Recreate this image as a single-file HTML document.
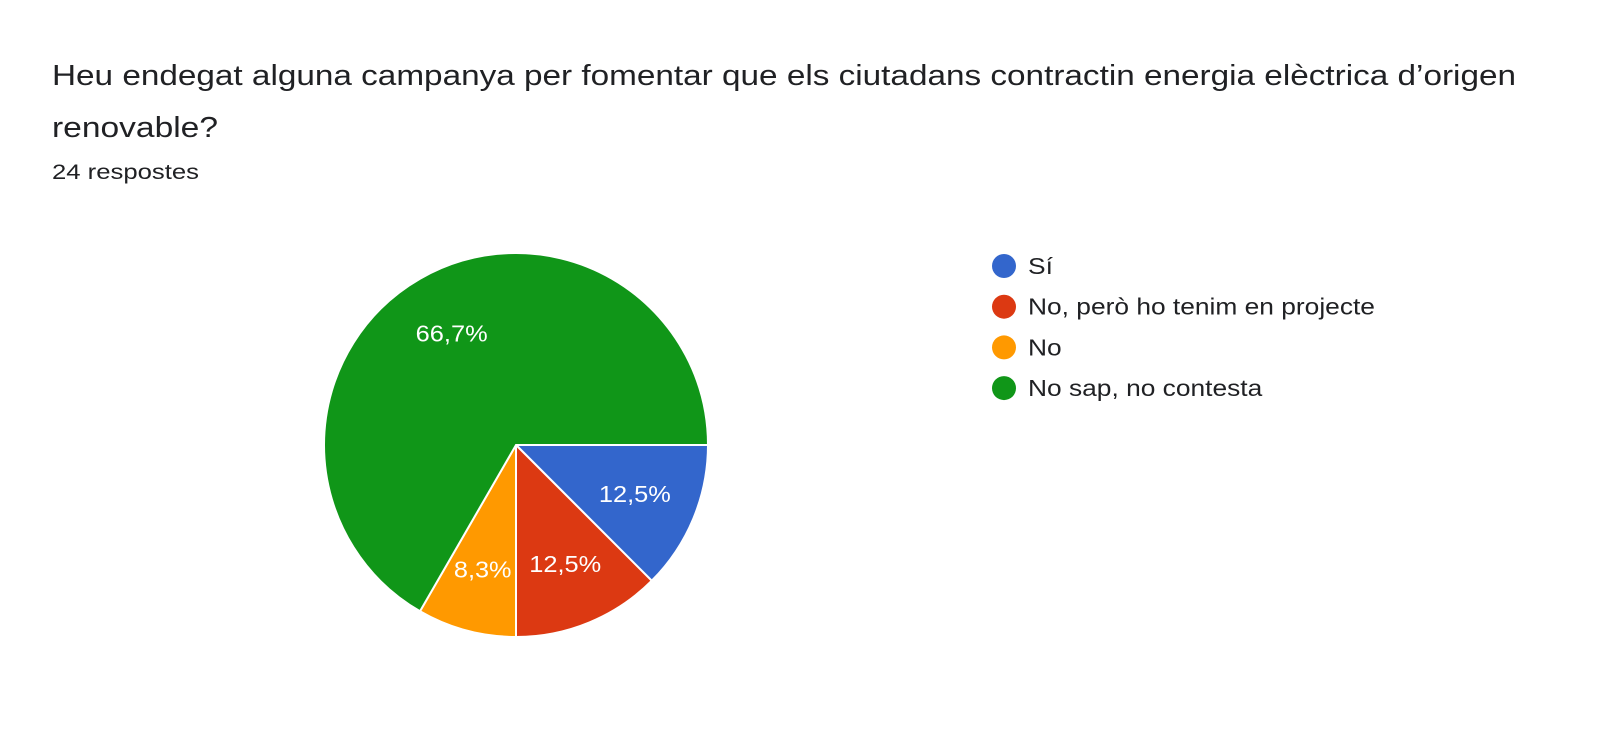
<!DOCTYPE html>
<html><head><meta charset="utf-8"><style>
body{margin:0;background:#fff;width:1600px;height:726px;overflow:hidden;font-family:"Liberation Sans",sans-serif;}
</style></head><body>
<svg width="1600" height="726" xmlns="http://www.w3.org/2000/svg">
<text x="52" y="85" font-size="29" fill="#202124" textLength="1464" lengthAdjust="spacingAndGlyphs">Heu endegat alguna campanya per fomentar que els ciutadans contractin energia elèctrica d’origen</text>
<text x="52" y="137" font-size="29" fill="#202124" textLength="166" lengthAdjust="spacingAndGlyphs">renovable?</text>
<text x="52" y="179" font-size="21" fill="#202124" textLength="147" lengthAdjust="spacingAndGlyphs">24 respostes</text>
<g id="pie"></g>
<g id="legend"></g>
</svg>
<script>
const categories=["Sí","No, però ho tenim en projecte","No","No sap, no contesta"];
const values=[3,3,2,16];
const labels=["12,5%","12,5%","8,3%","66,7%"];
const colors=["#3366cc","#dc3912","#ff9900","#109618"];
const NS="http://www.w3.org/2000/svg";
const cx=516,cy=445,r=192;
const total=values.reduce((a,b)=>a+b,0);
const pie=document.getElementById('pie');
let a0=0;
values.forEach((v,i)=>{
  const a1=a0+v/total*2*Math.PI;
  const x0=cx+r*Math.cos(a0),y0=cy+r*Math.sin(a0),x1=cx+r*Math.cos(a1),y1=cy+r*Math.sin(a1);
  const p=document.createElementNS(NS,'path');
  p.setAttribute('d',`M${cx},${cy}L${x0},${y0}A${r},${r} 0 ${a1-a0>Math.PI?1:0} 1 ${x1},${y1}Z`);
  p.setAttribute('fill',colors[i]);p.setAttribute('stroke','#fff');p.setAttribute('stroke-width','2');
  
  
  pie.appendChild(p);
  const m=(a0+a1)/2,lr=r*0.67;
  const t=document.createElementNS(NS,'text');
  t.setAttribute('x',cx+lr*Math.cos(m));t.setAttribute('y',cy+lr*Math.sin(m)+8);
  t.setAttribute('text-anchor','middle');t.setAttribute('font-size','23');t.setAttribute('fill','#fff');
  t.setAttribute('textLength',labels[i].length*14.4);t.setAttribute('lengthAdjust','spacingAndGlyphs');
  t.textContent=labels[i];
  
  
  pie.appendChild(t);
  a0=a1;
});
const lg=document.getElementById('legend');
const legendWidthScale=1.145;
categories.forEach((c,i)=>{
  const y=266+i*40.7;
  const ci=document.createElementNS(NS,'circle');
  ci.setAttribute('cx',1004);ci.setAttribute('cy',y);ci.setAttribute('r',12);ci.setAttribute('fill',colors[i]);
  
  
  lg.appendChild(ci);
  const t=document.createElementNS(NS,'text');
  t.setAttribute('x',1028);t.setAttribute('y',y+8);t.setAttribute('font-size','23');t.setAttribute('fill','#202124');
  t.textContent=c;
  
  
  lg.appendChild(t);
  const w=t.getComputedTextLength();
  t.setAttribute('textLength',w*legendWidthScale);t.setAttribute('lengthAdjust','spacingAndGlyphs');
});
</script>
</body></html>
